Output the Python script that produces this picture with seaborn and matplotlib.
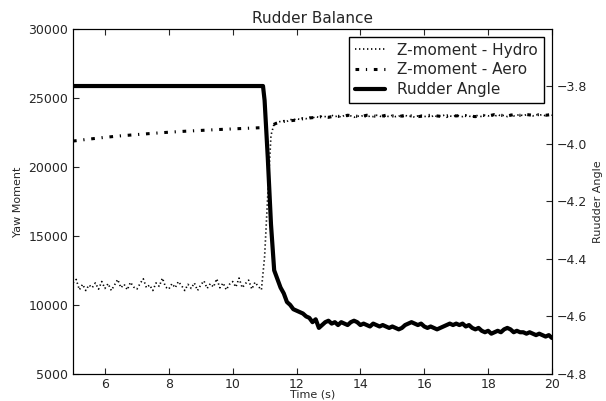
import numpy as np
import pandas as pd
import matplotlib
matplotlib.use("Agg")
import matplotlib.pyplot as plt
import seaborn as sns

# ---------------- data ----------------
hydro_time = np.round(np.arange(5.0, 20.001, 0.1), 2)
hydro_values = [
    11600, 11850, 11100, 11500, 11050, 11450, 11250, 11600, 11150, 11700,
    11200, 11550, 11050, 11450, 11850, 11250, 11500, 11100, 11650, 11300,
    11150, 11550, 11900, 11250, 11450, 11050, 11600, 11350, 11950, 11300,
    11150, 11550, 11250, 11700, 11400, 11050, 11500, 11200, 11600, 11050,
    11450, 11750, 11200, 11550, 11300, 11900, 11250, 11600, 11100, 11500,
    11700, 11300, 11950, 11250, 11550, 11800, 11150, 11650, 11350, 11100,
    13500, 18000, 22300, 23150, 23250, 23300, 23350, 23300, 23450, 23400, 23500,
    23450, 23550, 23500, 23600, 23550, 23650, 23600, 23700, 23650, 23600,
    23750, 23650, 23700, 23600, 23750, 23650, 23700, 23600, 23700, 23650,
    23750, 23600, 23700, 23650, 23750, 23700, 23600, 23700, 23650, 23750,
    23650, 23700, 23600, 23750, 23650, 23700, 23600, 23700, 23750, 23650,
    23700, 23600, 23750, 23650, 23700, 23750, 23600, 23700, 23650, 23750,
    23700, 23650, 23750, 23700, 23600, 23750, 23700, 23650, 23750, 23700,
    23750, 23650, 23800, 23700, 23750, 23650, 23800, 23700, 23750, 23800,
    23700, 23800, 23750, 23700, 23800, 23750, 23800, 23700, 23800, 23750,
]

aero_time = np.concatenate([
    [5.0, 5.5, 6.0, 6.5, 7.0, 7.5, 8.0, 8.5, 9.0, 9.5, 10.0, 10.5, 11.0],
    np.round(np.arange(11.2, 20.001, 0.2), 2),
])
aero_values = [
    21880, 22020, 22150, 22260, 22350, 22440, 22520, 22590, 22650, 22710, 22760, 22810, 22860,
    23000, 23200, 23300, 23350, 23400, 23500, 23550, 23600, 23650, 23600,
    23700, 23650, 23750, 23700, 23650, 23750, 23700, 23650, 23750, 23700,
    23650, 23750, 23700, 23650, 23700, 23750, 23700, 23650, 23750, 23700,
    23750, 23700, 23650, 23750, 23700, 23800, 23750, 23700, 23800, 23750,
    23800, 23750, 23800, 23750, 23800,
]

rudder_time = np.concatenate([[5.0, 10.95], np.round(np.arange(11.0, 20.001, 0.1), 2)])
rudder_values = [
    -3.8, -3.8,
    -3.85, -4.05, -4.28, -4.44, -4.47, -4.50, -4.52, -4.55, -4.56, -4.575, -4.58,
    -4.585, -4.59, -4.60, -4.605, -4.62, -4.61, -4.64, -4.63, -4.62, -4.615,
    -4.625, -4.62, -4.63, -4.62, -4.625, -4.63, -4.62, -4.615, -4.62, -4.63,
    -4.625, -4.63, -4.635, -4.625, -4.63, -4.635, -4.63, -4.635, -4.64, -4.635,
    -4.64, -4.645, -4.64, -4.63, -4.625, -4.62, -4.625, -4.63, -4.625, -4.635,
    -4.64, -4.635, -4.64, -4.645, -4.64, -4.635, -4.63, -4.625, -4.63, -4.625,
    -4.63, -4.625, -4.635, -4.63, -4.64, -4.645, -4.64, -4.65, -4.655, -4.65,
    -4.66, -4.655, -4.65, -4.655, -4.645, -4.64, -4.645, -4.655, -4.65, -4.655,
    -4.655, -4.66, -4.655, -4.66, -4.665, -4.66, -4.665, -4.67, -4.665, -4.675,
]

left_ticks = [5000, 10000, 15000, 20000, 25000, 30000]
right_ticks = [-4.8, -4.6, -4.4, -4.2, -4.0, -3.8]
x_ticks = [6, 8, 10, 12, 14, 16, 18, 20]

# ---------------- style ----------------
sns.set_style("ticks", {
    "xtick.direction": "in", "ytick.direction": "in",
    "axes.edgecolor": "black", "axes.linewidth": 1.0,
})
plt.rcParams["font.family"] = ["DejaVu Sans"]
plt.rcParams["xtick.major.size"] = 4
plt.rcParams["ytick.major.size"] = 4
plt.rcParams["xtick.top"] = True

fig = plt.figure(figsize=(6.06, 4.01), dpi=100)
ax = fig.add_axes([73 / 606, 1 - 374 / 401, (552 - 73) / 606, (374 - 29) / 401])

df_h = pd.DataFrame({"t": hydro_time, "v": hydro_values})
df_a = pd.DataFrame({"t": aero_time, "v": aero_values})
df_r = pd.DataFrame({"t": rudder_time, "v": rudder_values})

sns.lineplot(data=df_h, x="t", y="v", ax=ax, color="black", lw=1.2,
             linestyle=(0, (0.8, 1.6)), label="Z-moment - Hydro", legend=False)
sns.lineplot(data=df_a, x="t", y="v", ax=ax, color="black", lw=2.2,
             linestyle=(0, (1.2, 2.2, 0.4, 2.2)), label="Z-moment - Aero", legend=False)

ax2 = ax.twinx()
sns.lineplot(data=df_r, x="t", y="v", ax=ax2, color="black", lw=3,
             label="Rudder Angle", legend=False)

ax.set_xlim(5, 20)
ax.set_ylim(5000, 30000)
ax.set_xticks(x_ticks)
ax.set_yticks(left_ticks)
ax2.set_ylim(-4.8, -3.602)
ax2.set_yticks(right_ticks)
ax2.set_yticklabels(["\u22124.8", "\u22124.6", "\u22124.4", "\u22124.2", "\u22124.0", "\u22123.8"])

ax.tick_params(labelsize=9, direction="in", length=4, top=True, right=False)
ax.tick_params(axis="x", pad=3)
ax2.tick_params(labelsize=9, direction="in", length=4, right=True)
for a in (ax, ax2):
    for s in a.spines.values():
        s.set_visible(True)
        s.set_color("black")

ax.set_xlabel("Time (s)", fontsize=8, labelpad=-1)
ax.set_ylabel("Yaw Moment", fontsize=8, labelpad=4)
ax2.set_ylabel("Ruudder Angle", fontsize=8, labelpad=4)
ax.set_title("Rudder Balance", fontsize=11, pad=4)

h1, l1 = ax.get_legend_handles_labels()
h2, l2 = ax2.get_legend_handles_labels()
leg = ax2.legend(h1 + h2, l1 + l2, loc="upper right", fontsize=11, frameon=True,
                 fancybox=False, edgecolor="black", framealpha=1, handlelength=2.0,
                 borderaxespad=0.5, labelspacing=0.3, borderpad=0.4)
leg.get_frame().set_linewidth(1.0)

fig.savefig("out.png", dpi=100)
